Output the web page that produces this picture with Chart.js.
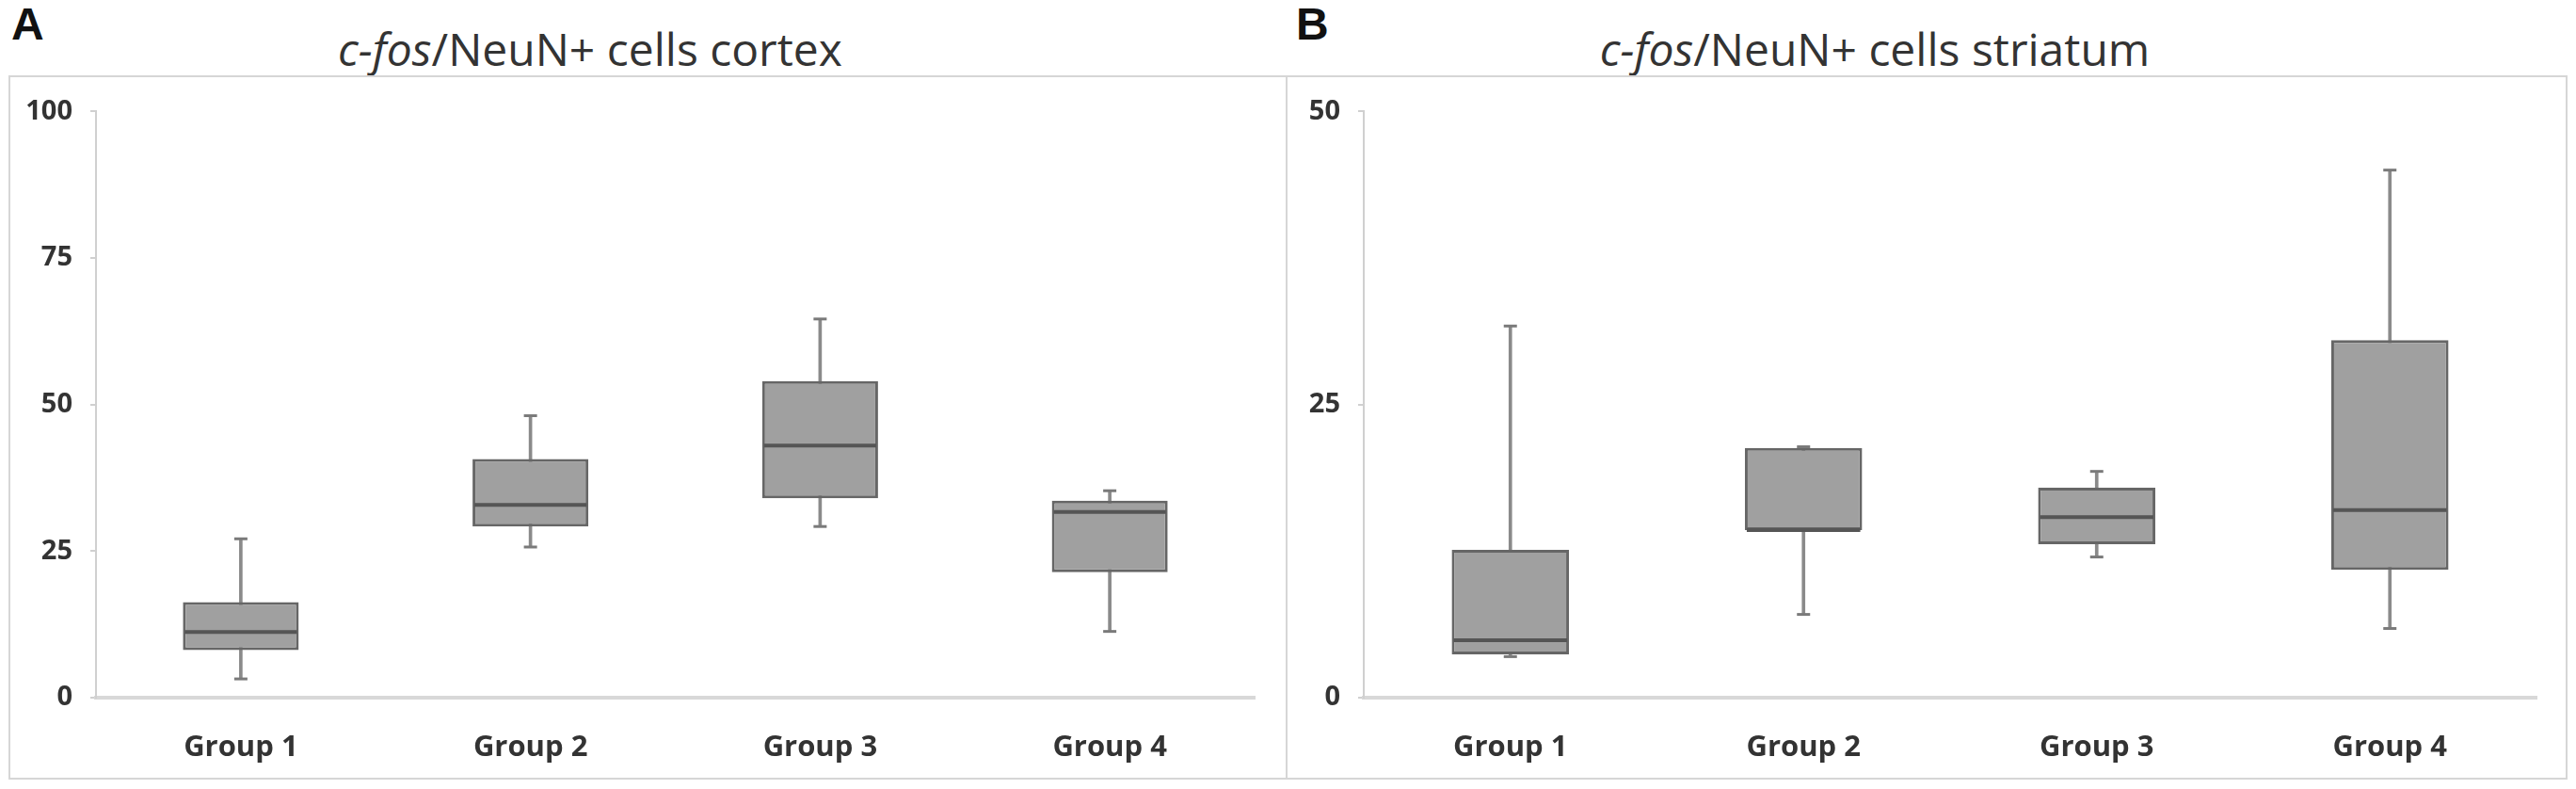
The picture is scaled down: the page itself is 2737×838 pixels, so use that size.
<!DOCTYPE html>
<html>
<head>
<meta charset="utf-8">
<script src="https://cdn.jsdelivr.net/npm/chart.js@4"></script>
<style>
  body { margin: 0; background: #fff; width: 2737px; height: 838px; position: relative; overflow: hidden; font-family: "Open Sans", sans-serif; }
  .letter { position: absolute; top: -2px; font: bold 48px "Liberation Sans", Arial, sans-serif; color: #111; }
  .title { position: absolute; top: 19px; font-size: 48px; line-height: normal; color: #333; white-space: nowrap; transform: translateX(-50%); }
  .panel { position: absolute; top: 80px; height: 748px; border: 2px solid #d6d6d6; box-sizing: border-box; }
  .panel div { position: relative; width: 100%; height: 100%; }
</style>
</head>
<body>
<div class="letter" style="left:12px">A</div>
<div class="letter" style="left:1377px">B</div>
<div class="title" style="left:627px"><i>c-fos</i>/NeuN+ cells cortex</div>
<div class="title" style="left:1992px"><i>c-fos</i>/NeuN+ cells striatum</div>
<div class="panel" style="left:9px; width:1359px"><div><canvas id="cortexChart"></canvas></div></div>
<div class="panel" style="left:1366px; width:1362px"><div><canvas id="striatumChart"></canvas></div></div>
<script>
const groups = ["Group 1", "Group 2", "Group 3", "Group 4"];

const cortexMin = [3.2, 25.7, 29.2, 11.3];
const cortexQ1 = [8.1, 29.2, 34.0, 21.4];
const cortexMedian = [11.2, 32.9, 43.0, 31.7];
const cortexQ3 = [16.3, 40.7, 54.0, 33.6];
const cortexMax = [27.1, 48.1, 64.6, 35.3];
const cortexTicks = [0, 25, 50, 75, 100];

const striatumMin = [3.5, 7.1, 12.0, 5.9];
const striatumQ1 = [3.7, 14.3, 13.1, 10.9];
const striatumMedian = [4.9, 14.3, 15.4, 16.0];
const striatumQ3 = [12.6, 21.3, 17.9, 30.5];
const striatumMax = [31.7, 21.4, 19.3, 45.0];
const striatumTicks = [0, 25, 50];

const boxFill = "#a0a0a0";
const boxLine = "#666";

// medians and whisker caps, placed through the y scale
const boxExtras = {
  id: "boxExtras",
  afterDatasetsDraw(chart) {
    const y = chart.scales.y;
    const ctx = chart.ctx;
    const boxes = chart.getDatasetMeta(1).data;
    const whiskers = chart.getDatasetMeta(0).data;
    const { medians, mins, maxs } = chart.options.plugins.boxExtras;
    ctx.save();
    boxes.forEach((bar, i) => {
      const half = bar.width / 2;
      ctx.strokeStyle = "#555";
      ctx.lineWidth = 4;
      ctx.beginPath();
      ctx.moveTo(bar.x - half + 2, y.getPixelForValue(medians[i]));
      ctx.lineTo(bar.x + half - 2, y.getPixelForValue(medians[i]));
      ctx.stroke();
      const wx = whiskers[i].x;
      ctx.strokeStyle = "#7a7a7a";
      ctx.lineWidth = 3;
      [mins[i], maxs[i]].forEach((v) => {
        const py = y.getPixelForValue(v);
        ctx.beginPath();
        ctx.moveTo(wx - 7, py);
        ctx.lineTo(wx + 7, py);
        ctx.stroke();
      });
    });
    ctx.restore();
  },
};

function makeChart(id, mins, q1, medians, q3, maxs, ticks, leftWidth, rightPad) {
  const ctx = document.getElementById(id).getContext("2d");
  return new Chart(ctx, {
    type: "bar",
    data: {
      labels: groups,
      datasets: [
        {
          data: groups.map((g, i) => [mins[i], maxs[i]]),
          backgroundColor: "#8a8a8a",
          borderWidth: 0,
          barThickness: 3,
          grouped: false,
          order: 2,
        },
        {
          data: groups.map((g, i) => [q1[i], q3[i]]),
          backgroundColor: boxFill,
          borderColor: boxLine,
          borderWidth: 3,
          borderSkipped: false,
          barPercentage: 0.4,
          categoryPercentage: 1,
          grouped: false,
          order: 1,
        },
      ],
    },
    options: {
      responsive: true,
      maintainAspectRatio: false,
      animation: false,
      layout: {
        padding: { left: 0, right: rightPad, top: 30, bottom: 0 },
      },
      plugins: {
        legend: { display: false },
        tooltip: { enabled: false },
        boxExtras: { medians: medians, mins: mins, maxs: maxs },
      },
      scales: {
        x: {
          grid: { display: false },
          border: { display: true, color: "#d8d8d8", width: 4 },
          ticks: {
            color: "#333",
            padding: 27,
            font: { family: "Open Sans", size: 31, weight: "bold" },
          },
          afterFit(scale) {
            scale.height = 85;
          },
        },
        y: {
          min: ticks[0],
          max: ticks[ticks.length - 1],
          afterBuildTicks(scale) {
            scale.ticks = ticks.map((v) => ({ value: v }));
          },
          grid: {
            drawOnChartArea: false,
            drawTicks: true,
            tickLength: 6,
            color: "#d0d0d0",
            lineWidth: 2,
          },
          border: { display: true, color: "#d0d0d0", width: 2 },
          ticks: {
            color: "#333",
            padding: 19,
            font: { family: "Open Sans", size: 29, weight: "bold" },
          },
          afterFit(scale) {
            scale.width = leftWidth;
          },
        },
      },
    },
    plugins: [boxExtras],
  });
}

makeChart("cortexChart", cortexMin, cortexQ1, cortexMedian, cortexQ3, cortexMax, cortexTicks, 91, 33);
makeChart("striatumChart", striatumMin, striatumQ1, striatumMedian, striatumQ3, striatumMax, striatumTicks, 81, 31);
</script>
</body>
</html>
